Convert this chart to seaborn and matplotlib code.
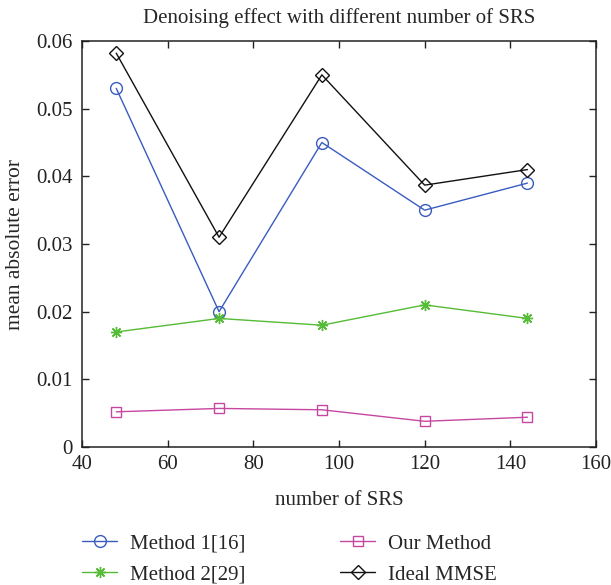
import pandas as pd
import seaborn as sns
import matplotlib.pyplot as plt

# 데이터
srs = [48, 72, 96, 120, 144]
method1 = [0.053, 0.020, 0.045, 0.035, 0.039]
method2 = [0.017, 0.019, 0.018, 0.021, 0.019]
our_method = [0.0052, 0.0057, 0.0055, 0.0038, 0.0044]
ideal_mmse = [0.0582, 0.031, 0.055, 0.0387, 0.041]

labels = ['Method 1[16]', 'Method 2[29]', 'Our Method', 'Ideal MMSE']
series = [method1, method2, our_method, ideal_mmse]
colors = ['#3a5bc0', '#56bb36', '#c6479f', '#111111']
markers = ['o', (8, 2, 0), 's', 'D']
msizes = [8.5, 8, 7, 7]

sns.set_style('ticks')
plt.rcParams['font.family'] = ['Liberation Serif', 'DejaVu Serif']

fig = plt.figure(figsize=(6.11, 5.85), dpi=100)
ax = fig.add_axes([0.1342, 0.2359, 0.8412, 0.694])

for lab, vals, c, m, ms in zip(labels, series, colors, markers, msizes):
    df = pd.DataFrame({'x': srs, 'y': vals})
    sns.lineplot(data=df, x='x', y='y', ax=ax, color=c, marker=m, markersize=ms,
                 markerfacecolor='none', markeredgecolor=c, markeredgewidth=1.0,
                 linewidth=1.0, label=lab, legend=False)

ax.set_xlim(40, 160)
ax.set_ylim(0, 0.06)
ax.set_xticks([40, 60, 80, 100, 120, 140, 160])
ax.set_yticks([0, 0.01, 0.02, 0.03, 0.04, 0.05, 0.06])
ax.set_yticklabels(['0', '0.01', '0.02', '0.03', '0.04', '0.05', '0.06'])
ax.tick_params(direction='in', length=5, width=1, top=True, right=True,
               labelsize=15, colors='#222222')
ax.tick_params(axis='x', pad=6)
ax.tick_params(axis='y', pad=7)
for s in ax.spines.values():
    s.set_linewidth(1.1)
    s.set_color('#222222')

ax.set_title('Denoising effect with different number of SRS', fontsize=15, pad=13)
ax.set_xlabel('number of SRS', fontsize=15, labelpad=12)
ax.set_ylabel('mean absolute error', fontsize=15.5, labelpad=8)

# 범례 (두 열을 따로 배치)
handles, hl = ax.get_legend_handles_labels()
for i, xpos in enumerate([82 / 611, 340 / 611]):
    leg = fig.legend(handles[2 * i:2 * i + 2], hl[2 * i:2 * i + 2], loc='upper left',
                     bbox_to_anchor=(xpos, 0.087), frameon=False, fontsize=15,
                     handlelength=1.7, handletextpad=0.6, labelspacing=0.55,
                     borderpad=0, borderaxespad=0)

plt.savefig('out.png', dpi=100)
